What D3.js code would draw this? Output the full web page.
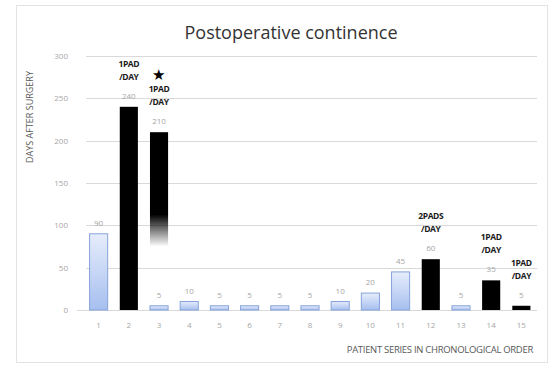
<!DOCTYPE html>
<html>
<head>
<meta charset="utf-8">
<script src="https://d3js.org/d3.v7.min.js"></script>
<style>
  body { margin: 0; background: #fff; }
  svg { display: block; font-family: "Open Sans", "Noto Sans", sans-serif; }
</style>
</head>
<body>
<svg id="chart" width="557" height="366"></svg>
<script>
// patients and days to continence
const patients = [1, 2, 3, 4, 5, 6, 7, 8, 9, 10, 11, 12, 13, 14, 15];
const days = [90, 240, 5, 10, 5, 5, 5, 5, 10, 20, 45, 60, 5, 35, 5];
// which bars are drawn black (pad still in use)
const padUse = [false, true, false, false, false, false, false, false, false, false, false, true, false, true, true];
const padText = ["", "1PAD", "", "", "", "", "", "", "", "", "", "2PADS", "", "1PAD", "1PAD"];
// floating black bar on patient 3
const floatPatient = [3];
const floatHigh = [210];
const floatLow = [75];
const floatText = ["1PAD"];
const yTicks = [0, 50, 100, 150, 200, 250, 300];

const svg = d3.select("#chart");

// outer frame
svg.append("rect")
  .attr("x", 16.5).attr("y", 5.5)
  .attr("width", 531).attr("height", 357)
  .attr("fill", "#fff")
  .attr("stroke", "#e3e3e3");

const x = d3.scaleBand()
  .domain(patients)
  .range([77.5, 542.5])
  .padding(0.4);

const y = d3.scaleLinear()
  .domain([0, 300])
  .range([310, 56]);

const defs = svg.append("defs");
const blueGrad = defs.append("linearGradient")
  .attr("id", "blue").attr("x1", 0).attr("y1", 0).attr("x2", 0).attr("y2", 1);
blueGrad.append("stop").attr("offset", "0%").attr("stop-color", "#e6edfb");
blueGrad.append("stop").attr("offset", "100%").attr("stop-color", "#a6bfef");

const fadeGrad = defs.append("linearGradient")
  .attr("id", "fade").attr("x1", 0).attr("y1", 0).attr("x2", 0).attr("y2", 1);
fadeGrad.append("stop").attr("offset", "0%").attr("stop-color", "#000").attr("stop-opacity", 1);
fadeGrad.append("stop").attr("offset", "72%").attr("stop-color", "#000").attr("stop-opacity", 1);
fadeGrad.append("stop").attr("offset", "100%").attr("stop-color", "#000").attr("stop-opacity", 0);

// gridlines
svg.append("g")
  .selectAll("line")
  .data(yTicks)
  .join("line")
  .attr("x1", d => d === 0 ? 77 : 86)
  .attr("x2", 537)
  .attr("y1", d => Math.round(y(d)) + 0.5)
  .attr("y2", d => Math.round(y(d)) + 0.5)
  .attr("stroke", "#d9d9d9");

// y tick labels
svg.append("g")
  .selectAll("text")
  .data(yTicks)
  .join("text")
  .attr("x", 68)
  .attr("y", d => y(d) + 3)
  .attr("text-anchor", "end")
  .attr("font-size", 8)
  .attr("fill", "#a6a6a6")
  .text(d => d);

// x tick labels
svg.append("g")
  .selectAll("text")
  .data(patients)
  .join("text")
  .attr("x", d => x(d) + x.bandwidth() / 2)
  .attr("y", 328)
  .attr("text-anchor", "middle")
  .attr("font-size", 8)
  .attr("fill", "#a6a6a6")
  .text(d => d);

const rows = patients.map((p, i) => ({ p: p, v: days[i], pad: padUse[i], note: padText[i] }));

// bars
svg.append("g")
  .selectAll("rect")
  .data(rows)
  .join("rect")
  .attr("x", d => x(d.p))
  .attr("y", d => y(d.v))
  .attr("width", x.bandwidth())
  .attr("height", d => y(0) - y(d.v))
  .attr("fill", d => d.pad ? "#000" : "url(#blue)")
  .attr("stroke", d => d.pad ? "none" : "#86a3da")
  .attr("stroke-width", 1);

// value labels
svg.append("g")
  .selectAll("text")
  .data(rows)
  .join("text")
  .attr("x", d => x(d.p) + x.bandwidth() / 2)
  .attr("y", d => y(d.v) - 8)
  .attr("text-anchor", "middle")
  .attr("font-size", 8)
  .attr("fill", "#a6a6a6")
  .text(d => d.v);

// floating bar on patient 3
const floats = floatPatient.map((p, i) => ({ p: p, hi: floatHigh[i], lo: floatLow[i], note: floatText[i] }));
svg.append("g")
  .selectAll("rect")
  .data(floats)
  .join("rect")
  .attr("x", d => x(d.p))
  .attr("y", d => y(d.hi))
  .attr("width", x.bandwidth())
  .attr("height", d => y(d.lo) - y(d.hi))
  .attr("fill", "url(#fade)");

svg.append("g")
  .selectAll("text")
  .data(floats)
  .join("text")
  .attr("x", d => x(d.p) + x.bandwidth() / 2)
  .attr("y", d => y(d.hi) - 8)
  .attr("text-anchor", "middle")
  .attr("font-size", 8)
  .attr("fill", "#a6a6a6")
  .text(d => d.hi);

// pad annotations
const notes = rows.filter(d => d.note).map(d => ({ p: d.p, top: y(d.v), note: d.note }))
  .concat(floats.map(d => ({ p: d.p, top: y(d.hi), note: d.note })));

const noteG = svg.append("g")
  .selectAll("text")
  .data(notes)
  .join("text")
  .attr("text-anchor", "middle")
  .attr("font-size", 8.5)
  .attr("font-weight", "bold")
  .attr("fill", "#1a1a1a")
  .attr("letter-spacing", -0.4);
noteG.append("tspan")
  .attr("x", d => x(d.p) + x.bandwidth() / 2)
  .attr("y", d => d.top - 40)
  .text(d => d.note);
noteG.append("tspan")
  .attr("x", d => x(d.p) + x.bandwidth() / 2)
  .attr("y", d => d.top - 27)
  .text("/DAY");

// star above patient 3
svg.append("text")
  .attr("x", x(floatPatient[0]) + x.bandwidth() / 2 - 1)
  .attr("y", y(floatHigh[0]) - 52)
  .attr("text-anchor", "middle")
  .attr("font-size", 15)
  .attr("fill", "#000")
  .text("★");

// title
svg.append("text")
  .attr("x", 291)
  .attr("y", 39)
  .attr("text-anchor", "middle")
  .attr("font-size", 18)
  .attr("fill", "#333")
  .text("Postoperative continence");

// axis titles
svg.append("text")
  .attr("transform", "translate(33,117) rotate(-90)")
  .attr("text-anchor", "middle")
  .attr("font-size", 9)
  .attr("fill", "#595959")
  .text("DAYS AFTER SURGERY");

svg.append("text")
  .attr("x", 533)
  .attr("y", 353)
  .attr("text-anchor", "end")
  .attr("font-size", 9.5)
  .attr("fill", "#595959")
  .attr("letter-spacing", -0.3)
  .text("PATIENT SERIES IN CHRONOLOGICAL ORDER");
</script>
</body>
</html>
